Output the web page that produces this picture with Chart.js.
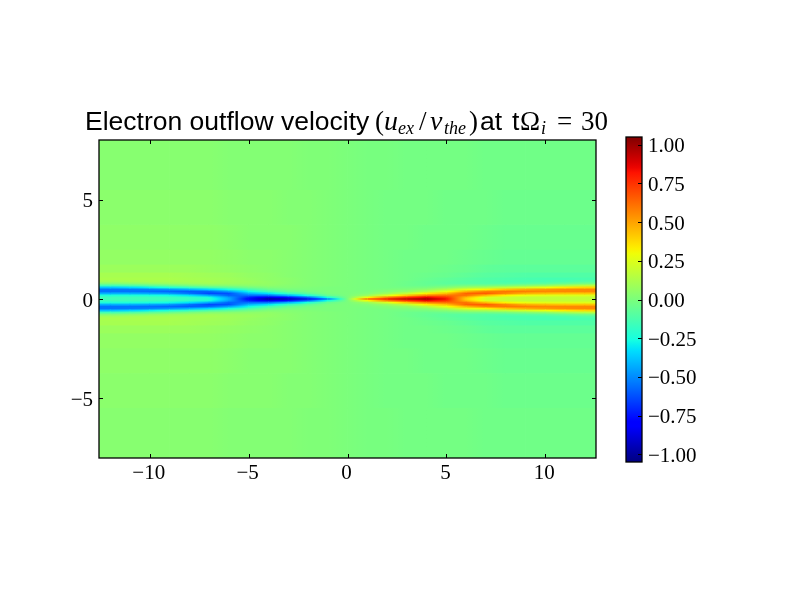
<!DOCTYPE html>
<html>
<head>
<meta charset="utf-8">
<style>
html,body{margin:0;padding:0;background:#fff}
#wrap{position:relative;width:800px;height:600px}
canvas{position:absolute;left:0;top:0}
</style>
<script src="https://cdn.jsdelivr.net/npm/chart.js@4"></script>
</head>
<body>
<div id="wrap"><canvas id="map" width="800" height="600"></canvas><canvas id="bar" width="800" height="600"></canvas></div>
<script>
// value nodes along x
const xNodes = [-13,-12,-11,-10,-9,-8,-7,-6,-5,-4,-3,-2,-1,0,1,2,3,4,5,6,7,8,9,10,11,12,13];
// |y| of every row (each row is drawn above and below y = 0)
const yRows  = [0,.1,.2,.3,.4,.5,.6,.7,.8,.9,1,1.2,1.5,2,3,4.5,6.5];
const yEdges = [0,.05,.15,.25,.35,.45,.55,.65,.75,.85,.95,1.1,1.35,1.75,2.5,3.75,5.5,8];
const xTicks = [-10,-5,0,5,10];
const yTicks = [-5,0,5];
const barTicks = [-1,-.75,-.5,-.25,0,.25,.5,.75,1];
const barRange = [-1.05,1.05];
// u_ex / v_the, one list per x node, one value per |y| row
const field = [
[-.15,-.16,-.24,-.42,-.55,-.55,-.38,-.15,.01,.09,.12,.11,.08,.06,.05,.04,.03],
[-.15,-.16,-.24,-.42,-.55,-.55,-.38,-.15,.01,.09,.12,.11,.08,.06,.05,.04,.03],
[-.15,-.16,-.24,-.42,-.55,-.54,-.34,-.12,.03,.1,.12,.11,.08,.06,.05,.04,.03],
[-.15,-.16,-.25,-.44,-.56,-.52,-.29,-.08,.05,.11,.12,.11,.08,.06,.05,.04,.03],
[-.15,-.17,-.27,-.47,-.58,-.48,-.23,-.05,.07,.11,.12,.11,.08,.06,.05,.04,.03],
[-.16,-.19,-.32,-.55,-.6,-.42,-.18,-.01,.08,.11,.11,.1,.08,.06,.05,.04,.03],
[-.19,-.25,-.44,-.64,-.58,-.34,-.12,.02,.09,.11,.1,.09,.07,.06,.05,.04,.03],
[-.42,-.46,-.58,-.62,-.46,-.26,-.08,.03,.08,.09,.09,.08,.06,.05,.04,.03,.02],
[-.82,-.72,-.56,-.42,-.28,-.14,-.03,.04,.07,.08,.07,.06,.05,.04,.03,.03,.02],
[-1.03,-.86,-.56,-.32,-.15,-.05,.01,.05,.06,.06,.05,.05,.04,.04,.03,.03,.02],
[-.98,-.76,-.42,-.18,-.06,-.01,.02,.03,.04,.04,.04,.03,.03,.03,.03,.02,.02],
[-.88,-.58,-.24,-.08,-.02,0,.01,.02,.02,.02,.02,.02,.02,.02,.02,.02,.01],
[-.62,-.25,-.06,-.01,0,0,0,.01,.01,.01,.01,.01,.01,.01,.01,.01,.01],
[0,0,0,0,0,0,0,0,0,0,0,0,0,0,0,0,0],
[.72,.3,.08,.02,0,-.01,-.01,-.01,-.01,-.01,-.01,-.01,-.01,-.01,-.01,-.01,-.01],
[.85,.58,.24,.08,.02,0,-.02,-.02,-.02,-.02,-.02,-.02,-.02,-.02,-.02,-.02,-.01],
[.98,.76,.42,.18,.06,.01,-.02,-.04,-.04,-.04,-.03,-.03,-.03,-.03,-.02,-.02,-.02],
[1.03,.86,.58,.33,.15,.05,-.01,-.05,-.06,-.06,-.05,-.04,-.03,-.03,-.03,-.02,-.02],
[.84,.76,.62,.44,.28,.14,.03,-.04,-.08,-.08,-.07,-.05,-.04,-.03,-.03,-.03,-.02],
[.38,.44,.6,.64,.46,.26,.09,-.02,-.09,-.1,-.09,-.07,-.05,-.04,-.03,-.03,-.02],
[.2,.25,.44,.66,.58,.32,.12,-.02,-.1,-.11,-.11,-.09,-.07,-.05,-.04,-.03,-.03],
[.18,.2,.32,.56,.6,.42,.17,0,-.1,-.13,-.12,-.1,-.08,-.06,-.05,-.04,-.03],
[.17,.18,.28,.47,.58,.48,.22,.03,-.09,-.13,-.13,-.11,-.08,-.06,-.05,-.04,-.03],
[.17,.18,.26,.44,.56,.52,.28,.06,-.08,-.13,-.14,-.11,-.08,-.06,-.05,-.04,-.03],
[.17,.18,.25,.42,.56,.55,.34,.11,-.05,-.12,-.14,-.11,-.08,-.06,-.05,-.04,-.03],
[.17,.18,.25,.42,.56,.56,.38,.16,-.02,-.1,-.13,-.11,-.08,-.06,-.05,-.04,-.03],
[.17,.18,.25,.42,.56,.56,.38,.16,-.02,-.1,-.13,-.11,-.08,-.06,-.05,-.04,-.03]
];

// jet colour map knots
const jetR = [[0,0],[.35,0],[.66,1],[.89,1],[1,.5]];
const jetG = [[0,0],[.125,0],[.375,1],[.64,1],[.91,0],[1,0]];
const jetB = [[0,.5],[.11,1],[.34,1],[.65,0],[1,0]];
function knot(k,n){
  for(let i=1;i<k.length;i++){
    if(n<=k[i][0]){const a=k[i-1],b=k[i];return a[1]+(b[1]-a[1])*(n-a[0])/(b[0]-a[0]);}
  }
  return k[k.length-1][1];
}
function jet(n){
  n=Math.max(0,Math.min(1,n));
  return 'rgb('+Math.round(255*knot(jetR,n))+','+Math.round(255*knot(jetG,n))+','+Math.round(255*knot(jetB,n))+')';
}
const norm = v => (v-barRange[0])/(barRange[1]-barRange[0]);

function rowDataset(r,sign){
  const lo = sign>0 ? yEdges[r] : -yEdges[r+1];
  const hi = sign>0 ? yEdges[r+1] : -yEdges[r];
  const pad = .02;
  const data = [];
  for(let i=0;i<xNodes.length-1;i++){
    data.push({x:(xNodes[i]+xNodes[i+1])/2, y:[lo-pad,hi+pad]});
  }
  return {
    data, grouped:false, borderWidth:0, barPercentage:1.04, categoryPercentage:1,
    backgroundColor(c){
      const i=c.dataIndex, sx=c.chart.scales.x;
      if(i===undefined||!sx) return '#80ff80';
      const p0=sx.getPixelForValue(xNodes[i]), p1=sx.getPixelForValue(xNodes[i+1]);
      if(!isFinite(p0)||!isFinite(p1)) return '#80ff80';
      const g=c.chart.ctx.createLinearGradient(p0,0,p1,0);
      const a=field[i][r], b=field[i+1][r];
      for(let k=0;k<=8;k++){g.addColorStop(k/8,jet(norm(a+(b-a)*k/8)));}
      return g;
    }
  };
}
const mapSets=[];
for(let r=yRows.length-1;r>0;r--){mapSets.push(rowDataset(r,1));mapSets.push(rowDataset(r,-1));}
mapSets.push(rowDataset(0,1));
mapSets.push(rowDataset(0,-1));

const tickFont={family:'"Liberation Serif"',size:21};
const fmt=v=>{const s=String(Math.abs(v));return (v<0?'\u2212':'')+s;};
const fmt2=v=>(v<0?'\u2212':'')+Math.abs(v).toFixed(2);

function frame(sides){
  return {id:'frame',afterDraw(chart){
    const {ctx,chartArea:a,scales}=chart;
    ctx.save();ctx.strokeStyle='#000';ctx.lineWidth=1;ctx.beginPath();
    if(sides.x){xTicks.forEach(t=>{const p=Math.round(scales.x.getPixelForValue(t))+.5;
      ctx.moveTo(p,a.top);ctx.lineTo(p,a.top+4);ctx.moveTo(p,a.bottom);ctx.lineTo(p,a.bottom-4);});}
    sides.y.forEach(t=>{const p=Math.round(scales.y.getPixelForValue(t))+.5;
      if(sides.x){ctx.moveTo(a.left,p);ctx.lineTo(a.left+4,p);}
      ctx.moveTo(a.right,p);ctx.lineTo(a.right-4,p);});
    ctx.stroke();
    ctx.lineWidth=1.3;
    ctx.strokeRect(a.left,a.top,a.right-a.left,a.bottom-a.top);
    ctx.restore();
  }};
}
const sans='"Liberation Sans"', serif='"Liberation Serif"';
const titleParts=[
 ['Electron outflow velocity','26.5px '+sans,85,130],
 ['(','27px '+serif,375,130],
 ['u','italic 28px '+serif,384,130],
 ['ex','italic 18px '+serif,398,134],
 ['/','27px '+serif,419,130],
 ['v','italic 28px '+serif,430,130],
 ['the','italic 18px '+serif,444,134],
 [')','27px '+serif,469,130],
 ['at','26.5px '+sans,480,130],
 ['t','26.5px '+sans,512,130],
 ['\u03A9','27px '+serif,520,130],
 ['i','italic 18px '+serif,541,134],
 ['=','27px '+serif,557,130],
 ['30','27px '+serif,581,130]
];
const titlePlugin={id:'mathTitle',afterDraw(chart){
  const ctx=chart.ctx;ctx.save();ctx.fillStyle='#000';ctx.textBaseline='alphabetic';ctx.textAlign='left';
  titleParts.forEach(p=>{ctx.font=p[1];ctx.fillText(p[0],p[2],p[3]);});
  ctx.restore();
}};

new Chart(document.getElementById('map'),{
  type:'bar',
  data:{datasets:mapSets},
  plugins:[frame({x:true,y:yTicks}),titlePlugin],
  options:{
    responsive:false,animation:false,events:[],
    layout:{padding:{left:39,right:204,top:140,bottom:82}},
    plugins:{legend:{display:false},tooltip:{enabled:false},title:{display:false}},
    scales:{
      x:{type:'linear',offset:false,min:-12.566,max:12.566,
        grid:{display:false,drawTicks:false},border:{display:false},
        afterBuildTicks(s){s.ticks=xTicks.map(value=>({value}));},
        afterFit(s){s.height=60;},
        ticks:{font:tickFont,color:'#000',padding:3,labelOffset:-1,maxRotation:0,autoSkip:false,callback:fmt}},
      y:{type:'linear',min:-8,max:8,
        grid:{display:false,drawTicks:false},border:{display:false},
        afterBuildTicks(s){s.ticks=yTicks.map(value=>({value}));},
        afterFit(s){s.width=60;},
        ticks:{font:tickFont,color:'#000',padding:6,labelOffset:2,autoSkip:false,callback:fmt}}
    }
  }
});

new Chart(document.getElementById('bar'),{
  type:'bar',
  data:{labels:['u'],datasets:[{
    data:[barRange],borderWidth:0,barPercentage:1,categoryPercentage:1,
    backgroundColor(c){
      const a=c.chart.chartArea; if(!a||c.dataIndex===undefined) return '#000';
      const g=c.chart.ctx.createLinearGradient(0,a.bottom,0,a.top);
      for(let k=0;k<=64;k++){g.addColorStop(k/64,jet(k/64));}
      return g;
    }
  }]},
  plugins:[frame({x:false,y:barTicks})],
  options:{
    responsive:false,animation:false,events:[],
    layout:{padding:{left:626,right:58,top:137,bottom:138}},
    plugins:{legend:{display:false},tooltip:{enabled:false}},
    scales:{
      x:{display:false,grid:{display:false}},
      y:{type:'linear',position:'right',min:barRange[0],max:barRange[1],
        grid:{display:false,drawTicks:false},border:{display:false},
        afterBuildTicks(s){s.ticks=barTicks.map(value=>({value}));},
        afterFit(s){s.width=100;},
        ticks:{font:tickFont,color:'#000',padding:6,labelOffset:2,autoSkip:false,callback:fmt2}}
    }
  }
});
</script>
</body>
</html>
